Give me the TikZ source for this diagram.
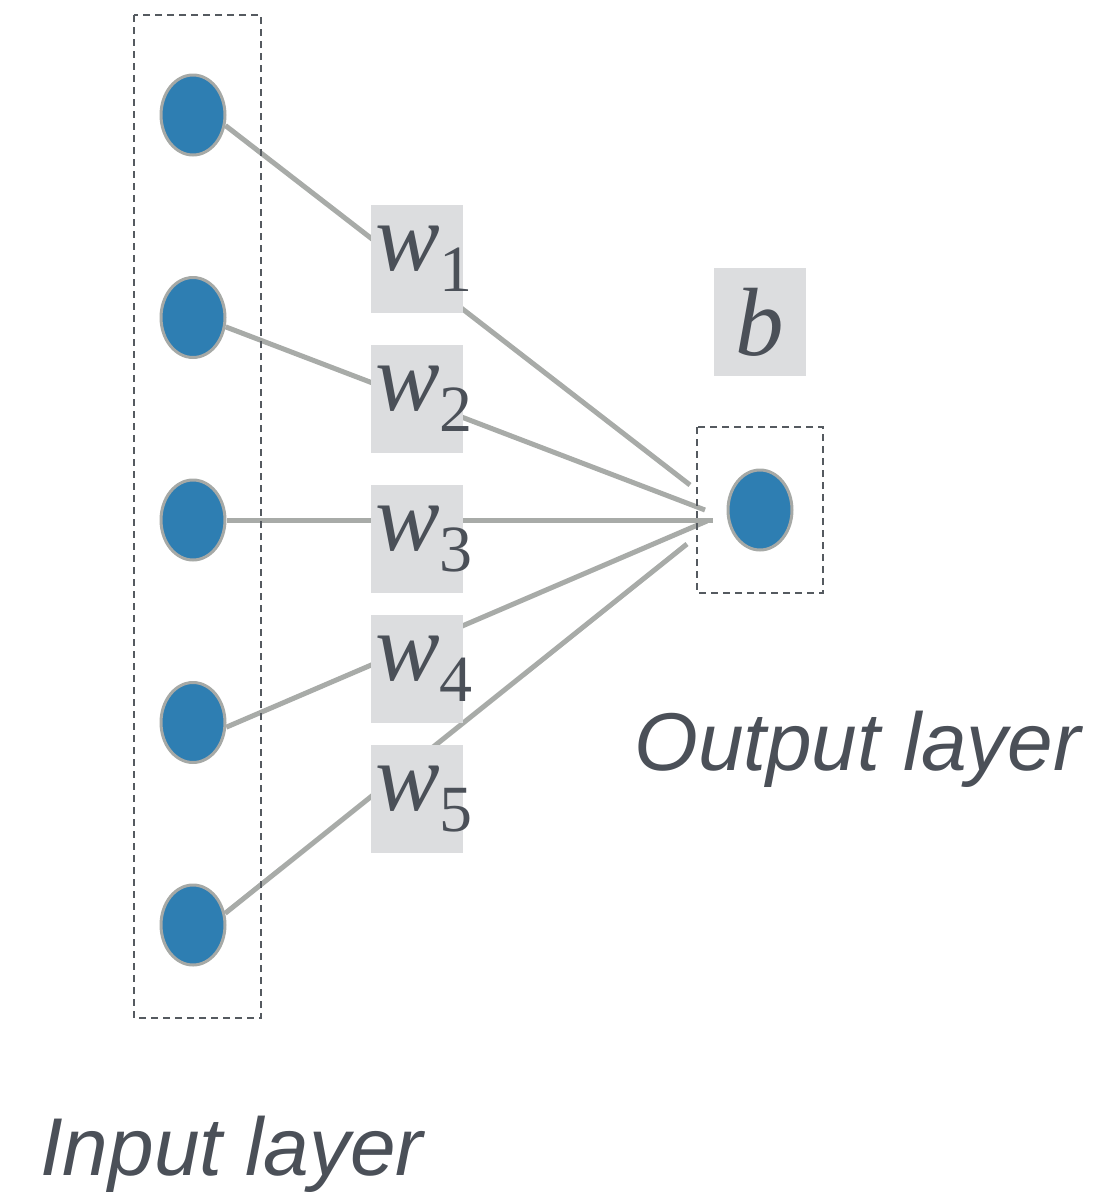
\documentclass[tikz,border=0pt]{standalone}
\usepackage{fontspec}
\setmainfont{Liberation Serif}
\newfontfamily\labelfont{Liberation Sans}
\usepackage{xcolor}
\usepackage{tikz}
\usetikzlibrary{positioning}
\usetikzlibrary{shapes.geometric}

\definecolor{unitblue}{RGB}{46,126,178}
\definecolor{unitrim}{RGB}{166,169,166}
\definecolor{edgegray}{RGB}{168,171,168}
\definecolor{wfill}{RGB}{220,221,223}
\definecolor{inkgray}{RGB}{75,80,88}
\definecolor{dashgray}{RGB}{85,90,96}

\newcommand{\wsym}[1]{\makebox[84pt][l]{\fontsize{97}{97}\selectfont\itshape w\raisebox{-21pt}{\fontsize{66}{66}\selectfont\upshape #1}}}

\tikzset{
  unit/.style={ellipse,draw=unitrim,line width=3pt,fill=unitblue,minimum width=64pt,minimum height=80pt,inner sep=0pt},
  weight/.style={fill=wfill,text=inkgray,minimum width=92pt,minimum height=108pt,inner sep=0pt},
  layerbox/.style={draw=dashgray,line width=2.5pt,dash pattern=on 7pt off 5pt},
  conn/.style={draw=edgegray,line width=5pt},
  layername/.style={text=inkgray,font=\labelfont\itshape\fontsize{82}{90}\selectfont,inner sep=0pt}
}

\begin{document}
\begin{tikzpicture}[x=1pt,y=-1pt,node distance=202.5pt]
\useasboundingbox (0,0) rectangle (1101,1192);

\node[unit] (in1) at (193,115) {};
\node[unit] (in2) [below of=in1] {};
\node[unit] (in3) [below of=in2] {};
\node[unit] (in4) [below of=in3] {};
\node[unit] (in5) [below of=in4] {};
\node[unit] (out) at (760,510) {};

\coordinate (e1) at (690,485);
\coordinate (e2) at (705,510);
\coordinate (e3) at (713,520);
\coordinate (e4) at (707,521);
\coordinate (e5) at (687,544);

\path[conn] (in1.-18) -- (e1);
\path[conn] (in2.-16) -- (e2);
\path[conn] (in3.east) -- (e3);
\path[conn] (in4.-8) -- (e4);
\path[conn] (in5.20) -- (e5);

\draw[layerbox] (134,15) rectangle (261,1018);
\draw[layerbox] (697,427) rectangle (823,593);

\node[weight] (w1) at (417,259) {\wsym{1}};
\node[weight] (w2) at (417,399) {\wsym{2}};
\node[weight] (w3) at (417,539) {\wsym{3}};
\node[weight] (w4) at (417,669) {\wsym{4}};
\node[weight] (w5) at (417,799) {\wsym{5}};
\node[weight] (bias) at (760,322) {\fontsize{97}{97}\selectfont\itshape b};

\node[layername,anchor=base west] (outname) at (634,770) {Output layer};
\node[layername,anchor=base west] (inname) at (40,1175) {Input layer};

\end{tikzpicture}
\end{document}
